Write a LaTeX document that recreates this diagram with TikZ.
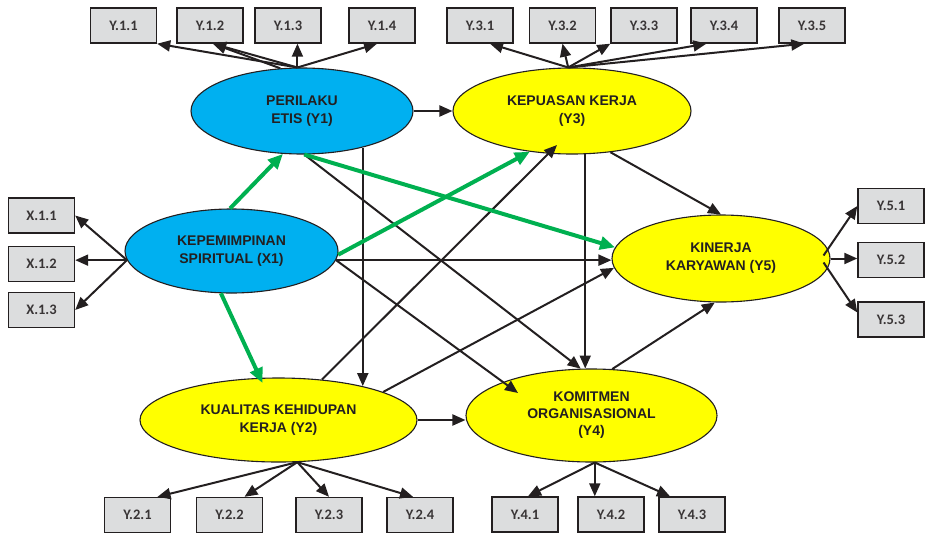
\documentclass[tikz,border=0pt]{standalone}
\usepackage{fontspec}
\setmainfont{Liberation Sans}
\newfontfamily\boxfont{Carlito}
\usetikzlibrary{arrows.meta,shapes.geometric,calc}
\definecolor{skyfill}{HTML}{00B0F0}
\definecolor{yelfill}{HTML}{FFFF00}
\definecolor{boxgray}{HTML}{DCDDDE}
\definecolor{pathgreen}{HTML}{00B050}
\definecolor{ink}{HTML}{231F20}
\tikzset{
  latent/.style={ellipse, draw=ink, line width=1.1pt, inner sep=0pt, align=center,
    font=\fontsize{14}{18}\selectfont\bfseries, text=ink},
  indic/.style={rectangle, draw=ink, fill=boxgray, line width=1.4pt,
    minimum width=66pt, minimum height=35pt, inner sep=0pt,
    font=\boxfont\fontsize{14.5}{14.5}\selectfont\bfseries, text=ink!90},
  arr/.style={draw=ink, line width=2pt, -{Triangle[length=13pt,width=11pt]}},
  garr/.style={draw=pathgreen, line width=4pt, -{Triangle[length=15pt,width=13pt]}}
}
\begin{document}
\begin{tikzpicture}[x=1pt,y=-1pt]
\useasboundingbox (0,0) rectangle (925,535);

% latent constructs
\node[latent, fill=skyfill, minimum width=222pt, minimum height=86pt] (y1) at (302,111) {PERILAKU\\ETIS (Y1)};
\node[latent, fill=yelfill, minimum width=238pt, minimum height=86pt] (y3) at (572,111) {KEPUASAN KERJA\\(Y3)};
\node[latent, fill=skyfill, minimum width=213pt, minimum height=84pt] (x1) at (231.5,251) {KEPEMIMPINAN\\SPIRITUAL (X1)};
\node[latent, fill=yelfill, minimum width=218pt, minimum height=87pt] (y5) at (721,258.5) {KINERJA\\KARYAWAN (Y5)};
\node[latent, fill=yelfill, minimum width=277pt, minimum height=84pt] (y2) at (278.5,420) {KUALITAS KEHIDUPAN\\KERJA (Y2)};
\node[latent, fill=yelfill, minimum width=251pt, minimum height=93pt,
      font=\fontsize{14}{17}\selectfont\bfseries] (y4) at (591.5,415.5) {KOMITMEN\\ORGANISASIONAL\\(Y4)};

% indicators
\node[indic] (b11) at (123.5,25.5) {Y.1.1};
\node[indic] (b12) at (210,25.5) {Y.1.2};
\node[indic] (b13) at (288,25.5) {Y.1.3};
\node[indic] (b14) at (382,25.5) {Y.1.4};
\node[indic] (b31) at (480,25.5) {Y.3.1};
\node[indic] (b32) at (562.5,25.5) {Y.3.2};
\node[indic] (b33) at (644,25.5) {Y.3.3};
\node[indic] (b34) at (724,25.5) {Y.3.4};
\node[indic] (b35) at (812,25.5) {Y.3.5};
\node[indic] (bx1) at (41.5,215.5) {X.1.1};
\node[indic] (bx2) at (41.5,264) {X.1.2};
\node[indic] (bx3) at (41.5,310) {X.1.3};
\node[indic] (b51) at (891,206) {Y.5.1};
\node[indic] (b52) at (891,260) {Y.5.2};
\node[indic] (b53) at (891,319.5) {Y.5.3};
\node[indic] (b21) at (137.5,515) {Y.2.1};
\node[indic] (b22) at (229.5,515) {Y.2.2};
\node[indic] (b23) at (329,515) {Y.2.3};
\node[indic] (b24) at (420,515) {Y.2.4};
\node[indic] (b41) at (525,514.5) {Y.4.1};
\node[indic] (b42) at (611,514.5) {Y.4.2};
\node[indic] (b43) at (692,514.5) {Y.4.3};

% loadings
\draw[arr] (y1.96) -- (b11.south east);
\draw[arr] (y1.96) -- ($(b12.south)+(3,0)$);
\draw[arr] (y1.117) -- ($(b12.south)+(3,0)$);
\draw[arr] (y1.96) -- (y1.96 |- b13.south);
\draw[arr] (y1.96) -- ($(b14.south)+(-5,0)$);

\draw[arr] (y3.95) -- ($(b31.south)+(10,0)$);
\draw[arr] (y3.95) -- (b32.south);
\draw[arr] (y3.95) -- (b33.south west);
\draw[arr] (y3.95) -- ($(b34.south west)+(16,0)$);
\draw[arr] (y3.95) -- ($(b35.south west)+(26,0)$);

\draw[arr] (x1.185) -- (bx1.east);
\draw[arr] (x1.185) -- (x1.185 -| bx2.east);
\draw[arr] (x1.185) -- (bx3.east);

\draw[arr] ($(y5.east)+(-7,-3)$) -- (b51.west);
\draw[arr] (y5.east) -- (y5.east -| b52.west);
\draw[arr] ($(y5.east)+(-7,4)$) -- ($(b53.west)+(0,-7)$);

\draw[arr] (y2.-66) -- ($(b21.north)+(20,0)$);
\draw[arr] (y2.-66) -- ($(b22.north)+(15,0)$);
\draw[arr] (y2.-66) -- (b23.north);
\draw[arr] (y2.-66) -- ($(b24.north)+(-7,0)$);

\draw[arr] (y4.-86) -- ($(b41.north)+(3,0)$);
\draw[arr] (y4.-86) -- (y4.-86 |- b42.north);
\draw[arr] (y4.-86) -- ($(b43.north)+(-22,0)$);

% structural paths
\draw[arr] (y1.east) -- (y1.east -| y3.west);
\draw[arr] (y1.-31) -- (y1.-31 |- y2.22);
\draw[arr] (y1.-87) -- (y4.103);
\draw[arr] (x1.-5) -- (x1.-5 -| y5.west);
\draw[arr] (x1.-5) -- ($(y4.center)+(-73.5,-22.5)$);
\draw[arr] (y3.-73) -- (y3.-73 |- y4.98);
\draw[arr] (y3.-47) -- (y5.north);
\draw[arr] (y2.43) -- ($(y3.center)+(-15,34)$);
\draw[arr] (y2.15) -- (y5.185);
\draw[arr] (y2.east) -- (y2.east -| y4.west);
\draw[arr] (y4.66) -- (y5.-98);

% paths from spiritual leadership and ethics
\draw[garr] (x1.92) -- (y1.-114);
\draw[garr] (x1.-2) -- (y3.-136);
\draw[garr] (y1.-87) -- (y5.174);
\draw[garr] (x1.-104) -- ($(y2.center)+(-16,-37)$);
\end{tikzpicture}
\end{document}
